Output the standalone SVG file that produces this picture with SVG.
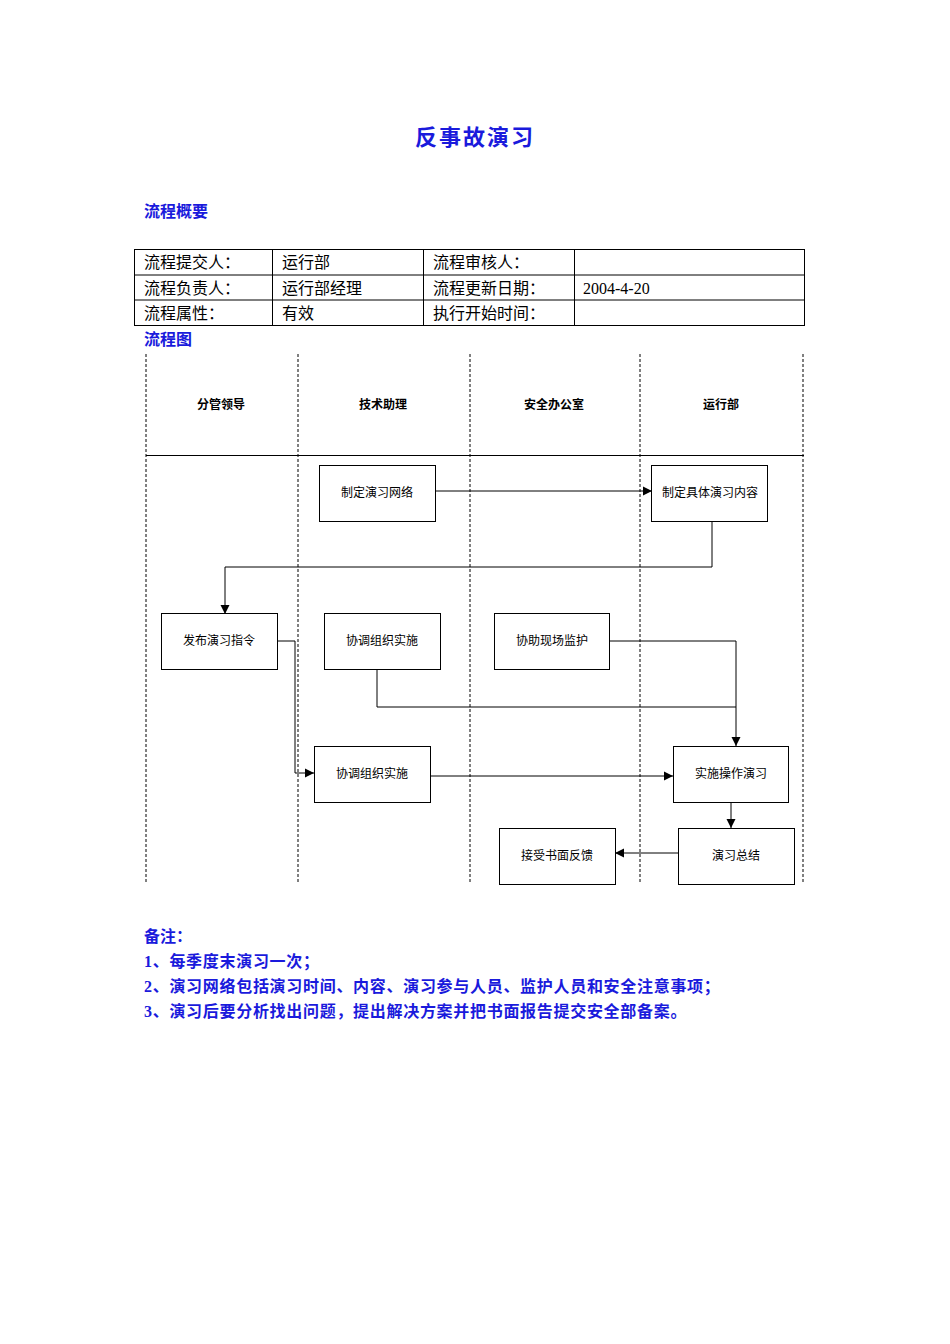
<svg xmlns="http://www.w3.org/2000/svg" width="950" height="1344" viewBox="0 0 950 1344">
<style>
.b{fill:#1a1adc;font-family:"Liberation Serif","Noto Sans CJK SC",serif;font-weight:bold;font-size:16px}
.r{letter-spacing:0.7px}
.t{font-family:"Liberation Serif","Noto Sans CJK SC",serif;font-size:16px;fill:#000}
.n rect{fill:#fff;stroke:#000;stroke-width:1}
.n text,.h{font-family:"Liberation Sans","Noto Sans CJK SC",sans-serif;font-size:12px;text-anchor:middle;fill:#000}
.h{font-weight:bold}
.d{stroke:#000;stroke-dasharray:3,2;stroke-width:1}
.c path{fill:none;stroke:#000;stroke-width:1}
</style>
<defs><marker id="a" markerWidth="10" markerHeight="10" refX="9" refY="5" orient="auto" markerUnits="userSpaceOnUse"><path d="M0,0.5L9,5L0,9.5z" fill="#000"/></marker></defs>
<rect width="950" height="1344" fill="#fff"/>
<text x="475" y="145" class="b" text-anchor="middle" style="font-size:22px;letter-spacing:2px">反事故演习</text>
<text x="144" y="217" class="b">流程概要</text>
<g fill="none" stroke="#000">
<rect x="134.5" y="249.5" width="670" height="76"/>
<path d="M134 275H805M134 300H805M272.5 249V326M423.5 249V326M574.5 249V326"/>
</g>
<text class="t" x="144" y="268">流程提交人：</text><text class="t" x="282" y="268">运行部</text><text class="t" x="433" y="268">流程审核人：</text>
<text class="t" x="144" y="294">流程负责人：</text><text class="t" x="282" y="294">运行部经理</text><text class="t" x="433" y="294">流程更新日期：</text><text class="t" x="583" y="294">2004-4-20</text>
<text class="t" x="144" y="319">流程属性：</text><text class="t" x="282" y="319">有效</text><text class="t" x="433" y="319">执行开始时间：</text>
<text x="144" y="345" class="b">流程图</text>
<g>
<path class="d" d="M146 354V884M298 354V884M470 354V884M640 354V884M803 354V884"/>
<path d="M146 455.5H804" stroke="#000"/>
<text class="h" x="221" y="409">分管领导</text><text class="h" x="383" y="409">技术助理</text><text class="h" x="554" y="409">安全办公室</text><text class="h" x="721" y="409">运行部</text>
</g>
<g class="c">
<path d="M436 491H652" marker-end="url(#a)"/>
<path d="M712 522V567H225V614" marker-end="url(#a)"/>
<path d="M278 641H295V773H314" marker-end="url(#a)"/>
<path d="M610 641H736V746" marker-end="url(#a)"/>
<path d="M377 670V707H736"/>
<path d="M430 776H673" marker-end="url(#a)"/>
<path d="M731 803V828" marker-end="url(#a)"/>
<path d="M678 853H615" marker-end="url(#a)"/>
</g>
<g id="n1" class="n"><rect x="319.5" y="465.5" width="116" height="56"/><text x="377" y="497">制定演习网络</text></g>
<g id="n2" class="n"><rect x="651.5" y="465.5" width="116" height="56"/><text x="710" y="497">制定具体演习内容</text></g>
<g id="n3" class="n"><rect x="161.5" y="613.5" width="116" height="56"/><text x="219" y="645">发布演习指令</text></g>
<g id="n4" class="n"><rect x="324.5" y="613.5" width="116" height="56"/><text x="382" y="645">协调组织实施</text></g>
<g id="n5" class="n"><rect x="494.5" y="613.5" width="115" height="56"/><text x="552" y="645">协助现场监护</text></g>
<g id="n6" class="n"><rect x="314.5" y="746.5" width="116" height="56"/><text x="372" y="778">协调组织实施</text></g>
<g id="n7" class="n"><rect x="673.5" y="746.5" width="115" height="56"/><text x="731" y="778">实施操作演习</text></g>
<g id="n8" class="n"><rect x="499.5" y="828.5" width="116" height="56"/><text x="557" y="860">接受书面反馈</text></g>
<g id="n9" class="n"><rect x="678.5" y="828.5" width="116" height="56"/><text x="736" y="860">演习总结</text></g>
<text x="144" y="942" class="b">备注：</text>
<text x="144" y="967" class="b r">1、每季度末演习一次；</text>
<text x="144" y="992" class="b r">2、演习网络包括演习时间、内容、演习参与人员、监护人员和安全注意事项；</text>
<text x="144" y="1017" class="b r">3、演习后要分析找出问题，提出解决方案并把书面报告提交安全部备案。</text>
</svg>
